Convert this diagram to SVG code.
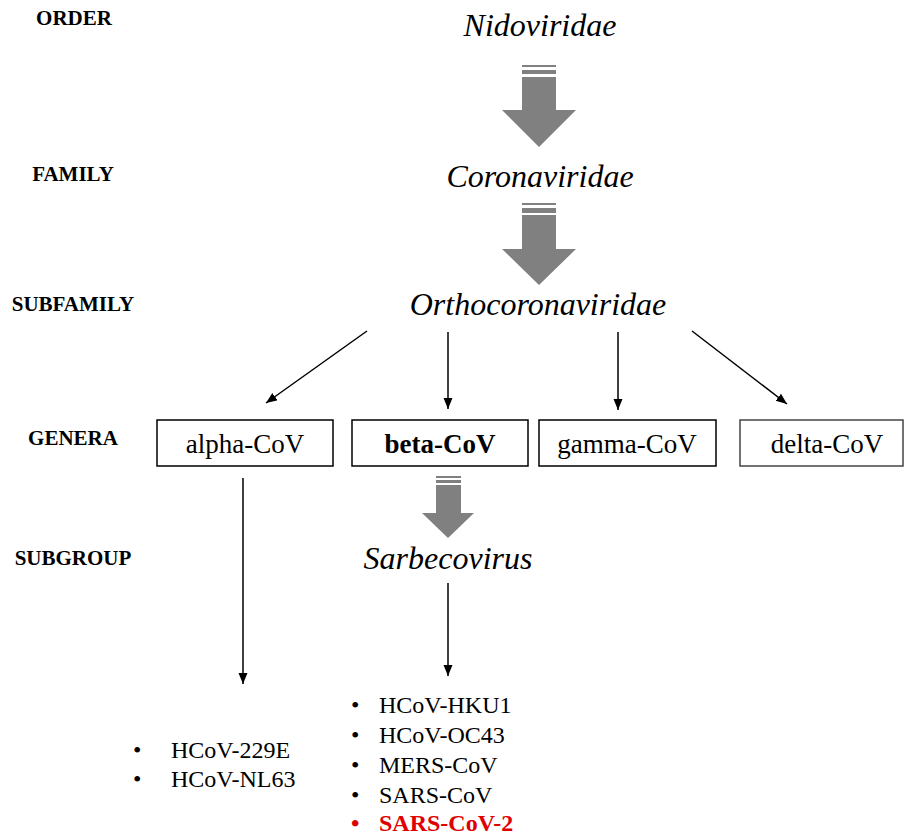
<svg xmlns="http://www.w3.org/2000/svg" width="905" height="836" viewBox="0 0 905 836">
<style>
.lvl{font-family:"Liberation Serif",serif;font-weight:bold;font-size:21px;text-anchor:middle;fill:#000}
.tax{font-family:"Liberation Serif",serif;font-style:italic;font-size:32px;text-anchor:middle;fill:#000}
.box{fill:#fff;stroke:#000;stroke-width:1.5}
.bt{font-family:"Liberation Serif",serif;font-size:27px;text-anchor:middle;fill:#000}
.li{font-family:"Liberation Serif",serif;font-size:24px;fill:#000}
.red{fill:#e00000;font-weight:bold}
.big{fill:#808080}
.con{stroke:#000;stroke-width:1.5;fill:none;marker-end:url(#ah)}
</style>
<defs>
<marker id="ah" markerUnits="userSpaceOnUse" markerWidth="12" markerHeight="10" refX="11" refY="4.5" orient="auto">
<path d="M0,0 L11,4.5 L0,9 z" fill="#000"/>
</marker>
</defs>
<rect width="905" height="836" fill="#fff"/>
<g id="levels">
<text class="lvl" x="74" y="25">ORDER</text>
<text class="lvl" x="73" y="181">FAMILY</text>
<text class="lvl" x="73" y="311">SUBFAMILY</text>
<text class="lvl" x="73" y="445">GENERA</text>
<text class="lvl" x="73" y="565">SUBGROUP</text>
</g>
<g id="order"><text class="tax" x="540" y="36">Nidoviridae</text></g>
<g id="family"><text class="tax" x="540" y="187">Coronaviridae</text></g>
<g id="subfamily"><text class="tax" x="538" y="315">Orthocoronaviridae</text></g>
<g id="alpha"><rect class="box" x="157" y="420" width="176" height="46"/><text class="bt" x="245" y="453">alpha-CoV</text></g>
<g id="beta"><rect class="box" x="352" y="420" width="176" height="46"/><text class="bt" x="440" y="453" font-weight="bold">beta-CoV</text></g>
<g id="gamma"><rect class="box" x="539" y="420" width="177" height="46"/><text class="bt" x="627" y="453">gamma-CoV</text></g>
<g id="delta"><rect class="box" x="740" y="420" width="163" height="46" style="stroke:#444"/><text class="bt" x="827" y="453">delta-CoV</text></g>
<g id="subgroup"><text class="tax" x="448" y="569">Sarbecovirus</text></g>
<g id="alpha-list">
<text class="li" x="133" y="758">•</text><text class="li" x="171" y="758">HCoV-229E</text>
<text class="li" x="133" y="787">•</text><text class="li" x="171" y="787">HCoV-NL63</text>
</g>
<g id="beta-list">
<text class="li" x="351" y="713">•</text><text class="li" x="379" y="713">HCoV-HKU1</text>
<text class="li" x="351" y="743">•</text><text class="li" x="379" y="743">HCoV-OC43</text>
<text class="li" x="351" y="773">•</text><text class="li" x="379" y="773">MERS-CoV</text>
<text class="li" x="351" y="803">•</text><text class="li" x="379" y="803">SARS-CoV</text>
<text class="li red" x="351" y="831">•</text><text class="li red" x="379" y="831">SARS-CoV-2</text>
</g>
<g id="connectors">
<g class="big">
<rect x="522" y="65" width="34" height="2"/>
<rect x="522" y="70" width="34" height="4"/>
<polygon points="522,77 556,77 556,110 576,110 539,147 502,110 522,110"/>
<rect x="522" y="203" width="34" height="2"/>
<rect x="522" y="208" width="34" height="5"/>
<polygon points="522,215 556,215 556,249 576,249 539,285 502,249 522,249"/>
<rect x="436" y="476" width="25" height="2"/>
<rect x="436" y="480" width="25" height="3"/>
<polygon points="436,485 461,485 461,513 474,513 448,538 422,513 436,513"/>
</g>
<line class="con" x1="367" y1="331" x2="266" y2="403"/>
<line class="con" x1="448" y1="332" x2="448" y2="409"/>
<line class="con" x1="618" y1="332" x2="618" y2="410"/>
<line class="con" x1="692" y1="331" x2="787" y2="404"/>
<line class="con" x1="243" y1="478" x2="243" y2="684"/>
<line class="con" x1="448" y1="583" x2="448" y2="676"/>
</g>
</svg>
